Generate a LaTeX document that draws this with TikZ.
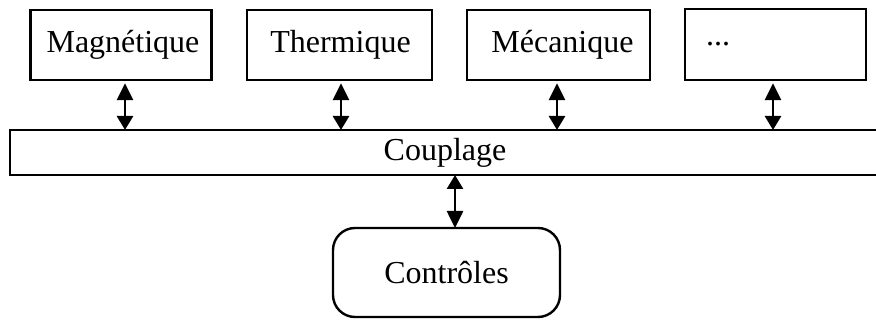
\documentclass[tikz,border=0pt]{standalone}
\usepackage{fontspec}
\setmainfont{Liberation Serif}
\usetikzlibrary{arrows.meta}
\begin{document}
\begin{tikzpicture}[x=1pt,y=-1pt,
  box/.style={draw,line width=2.4pt,inner sep=0pt,minimum height=70pt,font=\fontsize{32}{37}\selectfont},
  arr/.style={line width=2.6pt,{Triangle[length=17pt,width=16pt]}-{Triangle[length=14pt,width=16pt]},shorten <=2pt,shorten >=-1.2pt}]
\useasboundingbox (0,0) rectangle (876,320);
\node[box,minimum width=181pt] (mag) at (121,45) {\hspace*{4pt}Magnétique};
\node[box,minimum width=185pt] (the) at (339.5,45) {\hspace*{2pt}Thermique};
\node[box,minimum width=183pt] (mec) at (558.5,45) {\hspace*{8pt}Mécanique};
\node[box,minimum width=181pt,minimum height=71pt] (etc) at (775.5,44.5) {};
\node[font=\fontsize{32}{37}\selectfont,anchor=west,inner sep=0pt] (dots) at (706,44) {...};
\node[box,minimum width=870pt,minimum height=45pt] (cou) at (445,152.5) {Couplage};
\node[box,minimum width=227pt,minimum height=89pt,rounded corners=22pt] (ctl) at (446.5,272.5) {Contrôles};
\draw[arr] ([xshift=4pt]mag.south) -- ([xshift=4pt]mag.south |- cou.north);
\draw[arr] ([xshift=1.5pt]the.south) -- ([xshift=1.5pt]the.south |- cou.north);
\draw[arr] ([xshift=-1.5pt]mec.south) -- ([xshift=-1.5pt]mec.south |- cou.north);
\draw[arr] ([xshift=-2.5pt]etc.south) -- ([xshift=-2.5pt]etc.south |- cou.north);
\draw[arr,shorten <=-1.2pt] ([xshift=8.5pt]ctl.north) -- ([xshift=8.5pt]ctl.north |- cou.south);
\end{tikzpicture}
\end{document}
